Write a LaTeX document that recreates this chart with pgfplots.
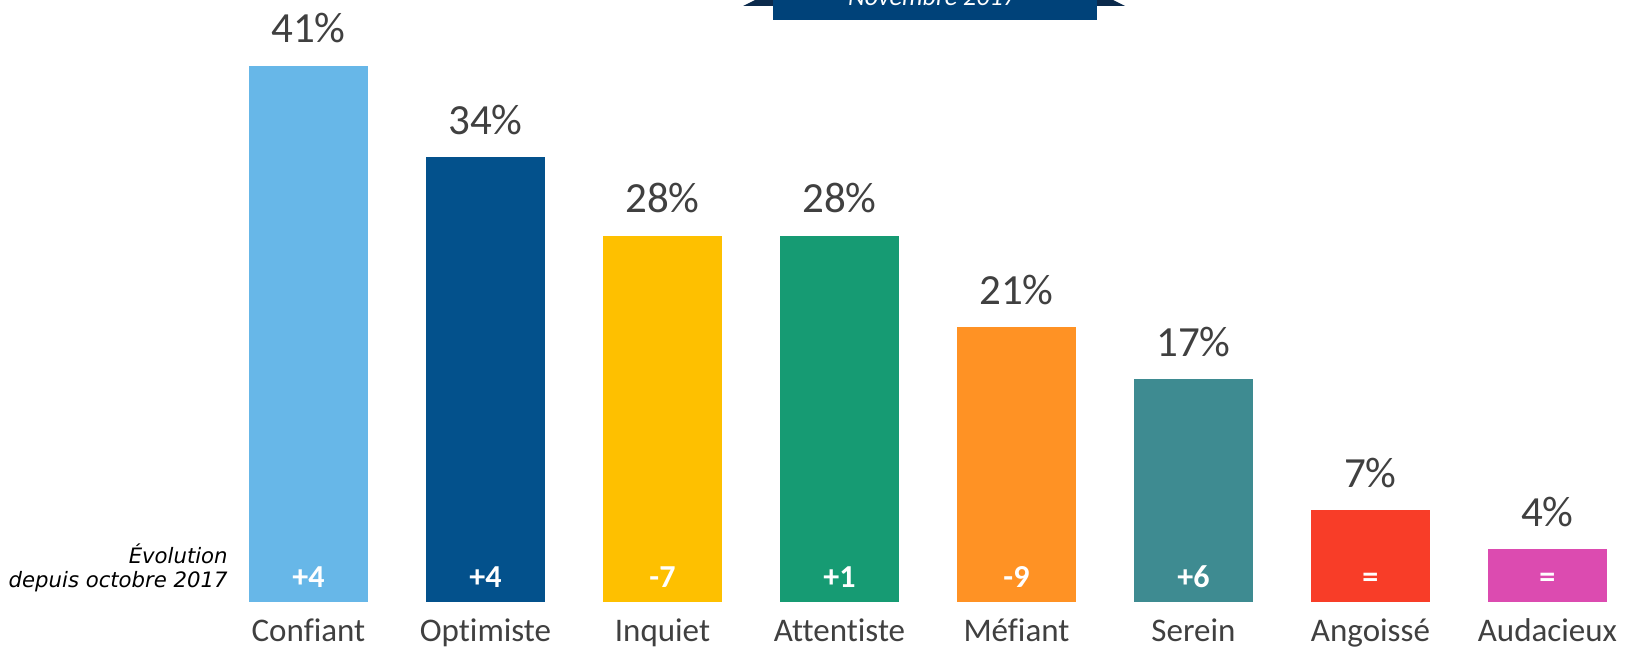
\documentclass[border=0pt]{standalone}
\usepackage{pgfplots}
\pgfplotsset{compat=1.18}
\usepackage{fontspec}
\setmainfont{Carlito}[Ligatures=NoCommon]
\newfontfamily\notefont{DejaVu Sans}

\definecolor{txtgrey}{HTML}{404040}
\definecolor{cConf}{HTML}{67B7E8}
\definecolor{cOpti}{HTML}{03518C}
\definecolor{cInqu}{HTML}{FEC000}
\definecolor{cAtte}{HTML}{169B73}
\definecolor{cMefi}{HTML}{FF9224}
\definecolor{cSere}{HTML}{3E8B91}
\definecolor{cAngo}{HTML}{F83D28}
\definecolor{cAuda}{HTML}{DC4BB0}
\definecolor{bannerblue}{HTML}{004279}
\definecolor{bannerdark}{HTML}{0B2A4C}

\begin{document}
\begin{tikzpicture}[x=0.5pt,y=0.5pt]
% picture frame in reference pixels
\useasboundingbox (0,0) rectangle (1626,649);

\begin{scope}[shift={(0,649)}, yscale=-1]
% banner at the top
\fill[bannerdark] (743,6) -- (755,0) -- (1113,0) -- (1125,6) -- cycle;
\fill[bannerblue] (773,0) rectangle (1097,20);
\node[text=white, font=\itshape\fontsize{13}{15}\selectfont, anchor=base, inner sep=0pt] at (932,6) {Novembre 2017};

% note on the left
\node[anchor=base east, font=\notefont\itshape\fontsize{10.6}{12}\selectfont, inner sep=0pt] at (228,563) {Évolution};
\node[anchor=base east, font=\notefont\itshape\fontsize{10.6}{12}\selectfont, inner sep=0pt] at (228,587) {depuis octobre 2017};
\end{scope}

\begin{axis}[
    at={(0pt,23.65pt)}, anchor=south west,
    scale only axis,
    width=813pt, height=300pt,
    xmin=-1.743, xmax=7.444,
    ymin=0, ymax=45.9,
    axis line style={draw=none},
    ytick=\empty,
    xtick={0,...,7},
    xticklabels={Confiant,Optimiste,Inquiet,Attentiste,Méfiant,Serein,Angoissé,Audacieux},
    major tick length=0pt,
    x tick label style={font=\fontsize{16.5}{18}\selectfont, text=txtgrey, anchor=base, yshift=-20pt},
    ybar, bar width=59.5pt, bar shift=0pt,
    /pgf/number format/assume math mode=true,
    nodes near coords={\pgfmathprintnumber{\pgfplotspointmeta}\%},
    every node near coord/.append style={font=\fontsize{21.5}{24}\selectfont, text=txtgrey, anchor=base, inner sep=0pt, yshift=11.5pt},
    clip=false,
]
\addplot[fill=cConf, draw=none] coordinates {(0,41)};
\addplot[fill=cOpti, draw=none] coordinates {(1,34)};
\addplot[fill=cInqu, draw=none] coordinates {(2,28)};
\addplot[fill=cAtte, draw=none] coordinates {(3,28)};
\addplot[fill=cMefi, draw=none] coordinates {(4,21)};
\addplot[fill=cSere, draw=none] coordinates {(5,17)};
\addplot[fill=cAngo, draw=none] coordinates {(6,7)};
\addplot[fill=cAuda, draw=none] coordinates {(7,4)};
% evolution since October 2017, written inside the bars
\addplot[draw=none, mark=none, fill=none,
    point meta=explicit symbolic,
    nodes near coords={\pgfplotspointmeta},
    every node near coord/.style={font=\bfseries\fontsize{16}{18}\selectfont, text=white, anchor=base, inner sep=0pt, yshift=7.3pt}]
    coordinates {(0,0)[+4] (1,0)[+4] (2,0)[-7] (3,0)[+1] (4,0)[-9] (5,0)[+6] (6,0)[=] (7,0)[=]};
\end{axis}
\end{tikzpicture}
\end{document}
